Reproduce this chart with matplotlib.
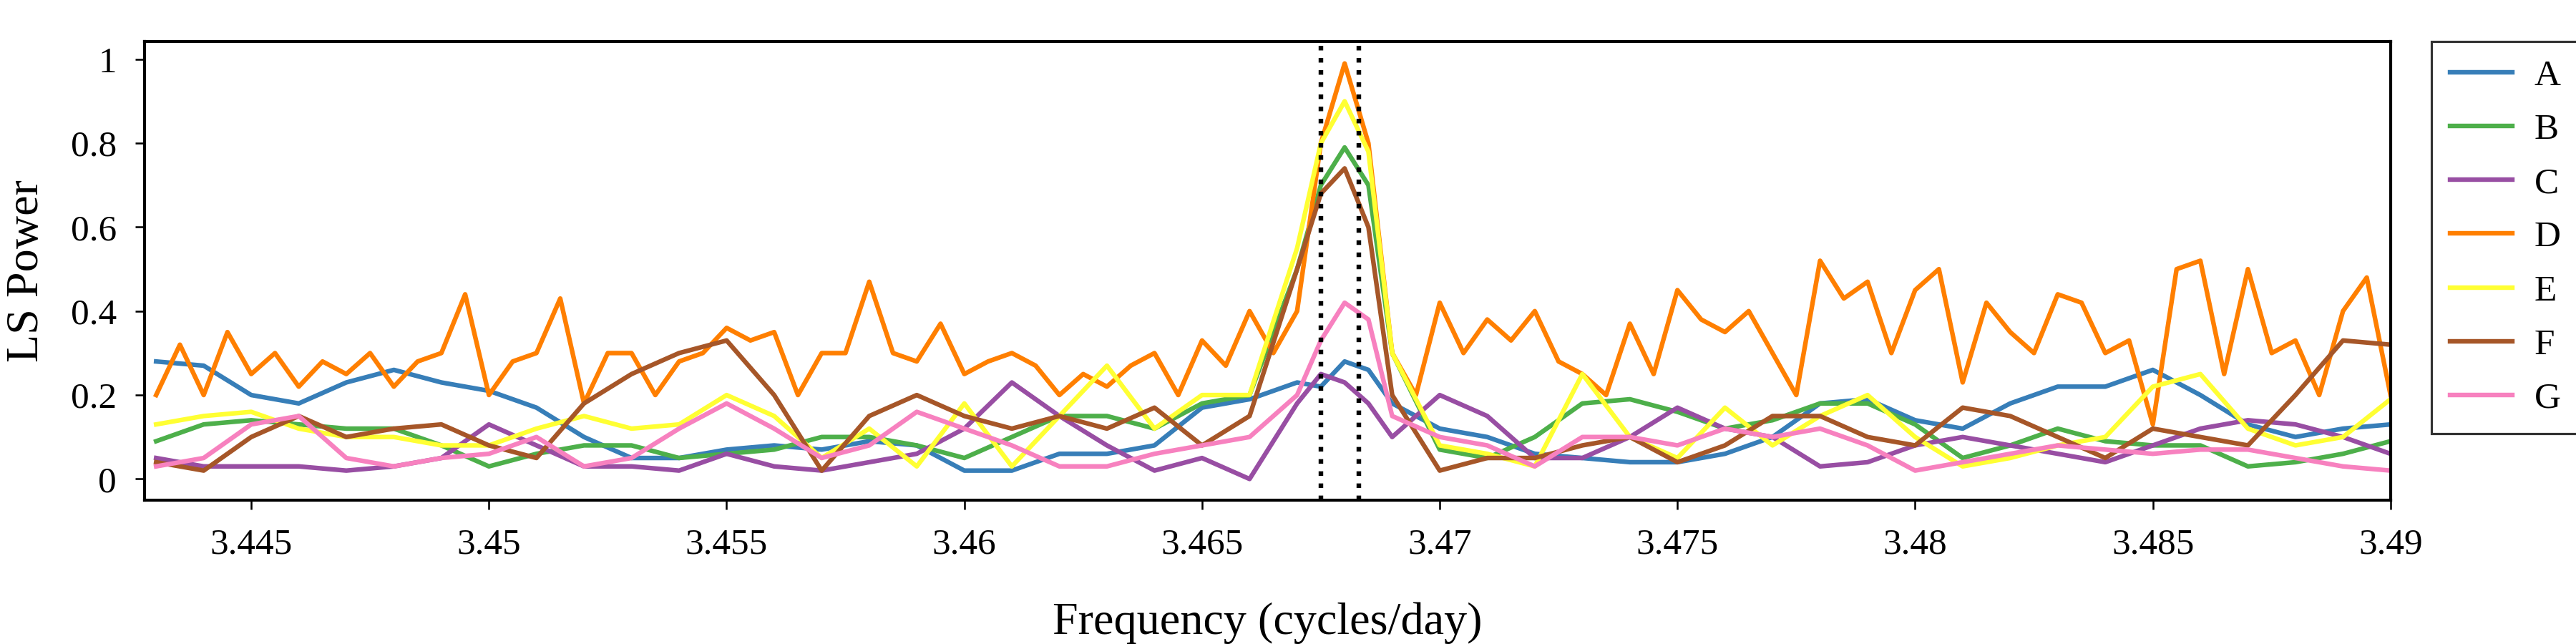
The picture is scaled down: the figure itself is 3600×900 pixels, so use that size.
import matplotlib
matplotlib.use("Agg")
import matplotlib.pyplot as plt
import numpy as np

plt.rcParams['font.family'] = ['Liberation Serif', 'DejaVu Serif']

xd = [round(3.443 + 0.0005 * i, 4) for i in range(95)]
D = [0.2,0.32,0.2,0.35,0.25,0.3,0.22,0.28,0.25,0.3,0.22,0.28,0.3,0.44,0.2,0.28,0.3,0.43,0.18,0.3,
     0.3,0.2,0.28,0.3,0.36,0.33,0.35,0.2,0.3,0.3,0.47,0.3,0.28,0.37,0.25,0.28,0.3,0.27,0.2,0.25,
     0.22,0.27,0.3,0.2,0.33,0.27,0.4,0.3,0.4,0.8,0.99,0.8,0.3,0.2,0.42,0.3,0.38,0.33,0.4,0.28,
     0.25,0.2,0.37,0.25,0.45,0.38,0.35,0.4,0.3,0.2,0.52,0.43,0.47,0.3,0.45,0.5,0.23,0.42,0.35,0.3,
     0.44,0.42,0.3,0.33,0.13,0.5,0.52,0.25,0.5,0.3,0.33,0.2,0.4,0.48,0.2]

xs = [round(3.443 + 0.001 * i, 4) for i in range(24)] + [3.467, 3.4675, 3.468, 3.4685] + \
     [round(3.469 + 0.001 * i, 4) for i in range(22)]
A = [0.28,0.27,0.2,0.18,0.23,0.26,0.23,0.21,0.17,0.1,0.05,0.05,0.07,0.08,0.07,0.09,0.08,0.02,0.02,0.06,0.06,0.08,0.17,0.19,
     0.23,0.22,0.28,0.26,
     0.18,0.12,0.1,0.06,0.05,0.04,0.04,0.06,0.1,0.18,0.19,0.14,0.12,0.18,0.22,0.22,0.26,0.2,0.13,0.1,0.12,0.13]
B = [0.09,0.13,0.14,0.13,0.12,0.12,0.08,0.03,0.06,0.08,0.08,0.05,0.06,0.07,0.1,0.1,0.08,0.05,0.1,0.15,0.15,0.12,0.18,0.2,
     0.5,0.7,0.79,0.7,
     0.3,0.07,0.05,0.1,0.18,0.19,0.16,0.12,0.14,0.18,0.18,0.13,0.05,0.08,0.12,0.09,0.08,0.08,0.03,0.04,0.06,0.09]
C = [0.05,0.03,0.03,0.03,0.02,0.03,0.05,0.13,0.08,0.03,0.03,0.02,0.06,0.03,0.02,0.04,0.06,0.12,0.23,0.15,0.08,0.02,0.05,0.0,
     0.18,0.25,0.23,0.18,
     0.1,0.2,0.15,0.05,0.05,0.1,0.17,0.12,0.1,0.03,0.04,0.08,0.1,0.08,0.06,0.04,0.08,0.12,0.14,0.13,0.1,0.06]
E = [0.13,0.15,0.16,0.12,0.1,0.1,0.08,0.08,0.12,0.15,0.12,0.13,0.2,0.15,0.05,0.12,0.03,0.18,0.03,0.15,0.27,0.12,0.2,0.2,
     0.55,0.8,0.9,0.78,
     0.3,0.08,0.06,0.03,0.25,0.1,0.05,0.17,0.08,0.15,0.2,0.1,0.03,0.05,0.08,0.1,0.22,0.25,0.12,0.08,0.1,0.19]
F = [0.04,0.02,0.1,0.15,0.1,0.12,0.13,0.08,0.05,0.18,0.25,0.3,0.33,0.2,0.02,0.15,0.2,0.15,0.12,0.15,0.12,0.17,0.08,0.15,
     0.5,0.68,0.74,0.6,
     0.2,0.02,0.05,0.05,0.08,0.1,0.04,0.08,0.15,0.15,0.1,0.08,0.17,0.15,0.1,0.05,0.12,0.1,0.08,0.2,0.33,0.32]
G = [0.03,0.05,0.13,0.15,0.05,0.03,0.05,0.06,0.1,0.03,0.05,0.12,0.18,0.12,0.05,0.08,0.16,0.12,0.08,0.03,0.03,0.06,0.08,0.1,
     0.2,0.33,0.42,0.38,
     0.15,0.1,0.08,0.03,0.1,0.1,0.08,0.12,0.1,0.12,0.08,0.02,0.04,0.06,0.08,0.07,0.06,0.07,0.07,0.05,0.03,0.02]

labels = ['A', 'B', 'C', 'D', 'E', 'F', 'G']
colors = ['#377eb8', '#4daf4a', '#984ea3', '#ff7f00', '#ffff33', '#a65628', '#f781bf']
series = [(xs, A), (xs, B), (xs, C), (xd, D), (xs, E), (xs, F), (xs, G)]
vlines = [3.4675, 3.4683]
xticks = [3.445, 3.45, 3.455, 3.46, 3.465, 3.47, 3.475, 3.48, 3.485, 3.49]
yticks = [0, 0.2, 0.4, 0.6, 0.8, 1]

fig = plt.figure(figsize=(15.6, 3.9), dpi=3600 / 15.6)
ax = fig.add_axes([0.056, 0.223, 0.872, 0.713])
for (x, y), lab, c in zip(series, labels, colors):
    ax.plot(x, y, color=c, lw=2.0, label=lab)
for v in vlines:
    ax.axvline(v, color='black', ls=':', lw=2.0)
ax.set_xlim(3.44275, 3.49)
ax.set_ylim(-0.051, 1.043)
ax.set_xticks(xticks)
ax.set_xticklabels([f'{t:g}' for t in xticks])
ax.set_yticks(yticks)
ax.set_yticklabels([f'{t:g}' for t in yticks])
ax.tick_params(labelsize=16, direction='out', length=4, pad=8)
ax.set_xlabel('Frequency (cycles/day)', fontsize=20, labelpad=18)
ax.set_ylabel('LS Power', fontsize=20, labelpad=10)
for s in ax.spines.values():
    s.set_linewidth(1.3)
leg = fig.legend(*ax.get_legend_handles_labels(), loc='upper left',
                 bbox_to_anchor=(0.944, 0.936), fontsize=16,
                 frameon=True, fancybox=False, edgecolor='black', handlelength=1.7,
                 handletextpad=0.6, labelspacing=0.55, borderpad=0.5, borderaxespad=0)
leg.get_frame().set_linewidth(1.0)
fig.savefig('out.png')
